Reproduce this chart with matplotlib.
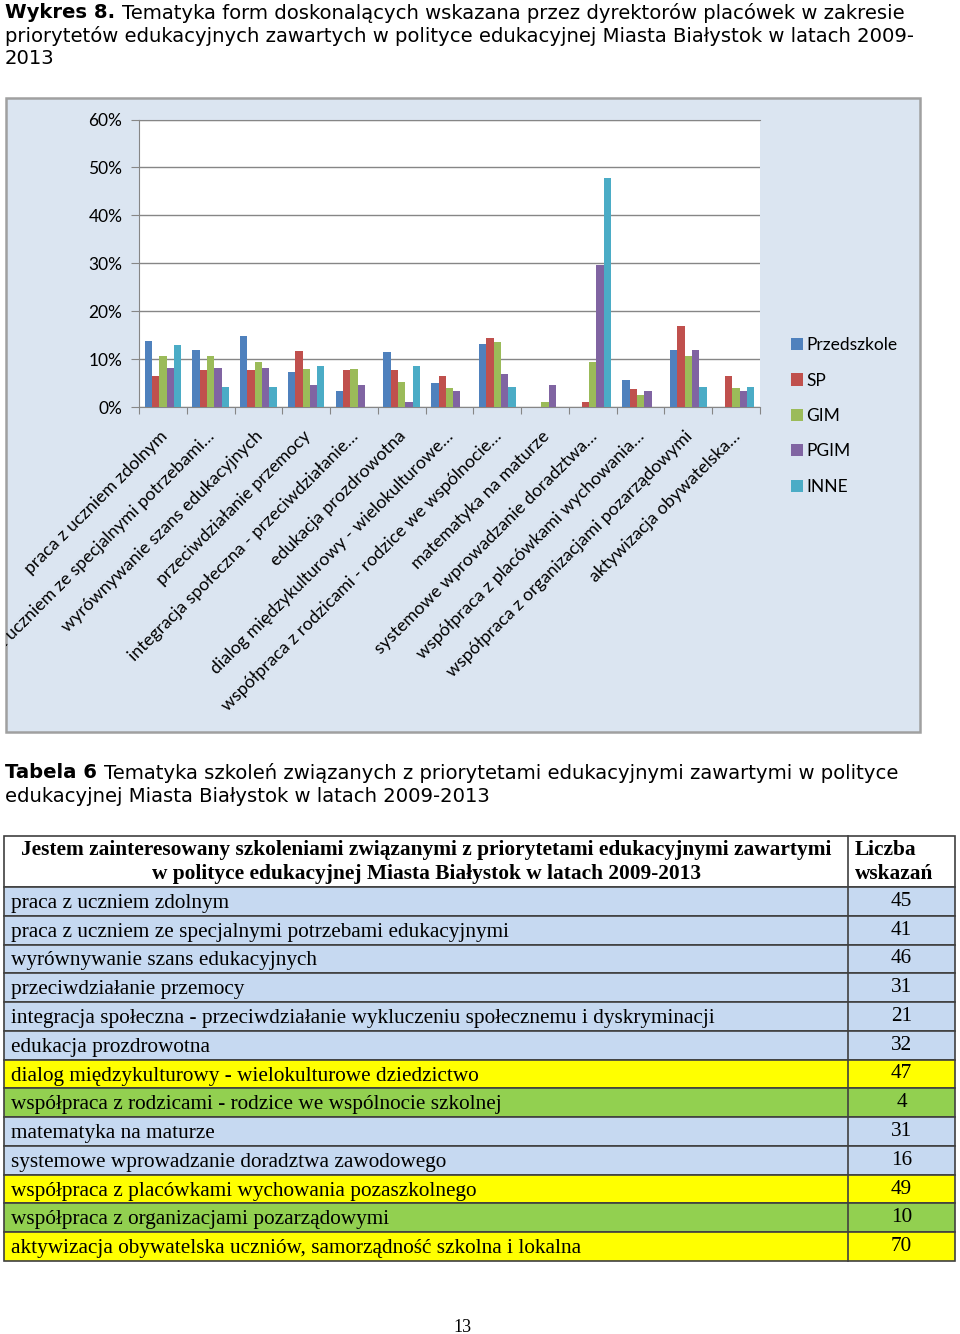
import matplotlib
matplotlib.use('Agg')
import matplotlib.pyplot as plt
import matplotlib.transforms as mtransforms
import numpy as np
from matplotlib.patches import Rectangle
from matplotlib.ticker import PercentFormatter

W, H = 960, 1334

# ---- dane wykresu (w %) ----
categories = [
    "praca z uczniem zdolnym",
    "praca z uczniem ze specjalnymi potrzebami…",
    "wyrównywanie szans edukacyjnych",
    "przeciwdziałanie przemocy",
    "integracja społeczna - przeciwdziałanie…",
    "edukacja prozdrowotna",
    "dialog międzykulturowy - wielokulturowe…",
    "współpraca z rodzicami - rodzice we wspólnocie…",
    "matematyka na maturze",
    "systemowe wprowadzanie doradztwa…",
    "współpraca z placówkami wychowania…",
    "współpraca z organizacjami pozarządowymi",
    "aktywizacja obywatelska…",
]
series_names = ["Przedszkole", "SP", "GIM", "PGIM", "INNE"]
przedszkole = [13.7, 12.0, 14.9, 7.3, 3.3, 11.4, 5.0, 13.1, 0, 0, 5.6, 12.0, 0]
sp = [6.4, 7.7, 7.7, 11.7, 7.7, 7.7, 6.4, 14.3, 0, 1.1, 3.8, 17.0, 6.4]
gim = [10.7, 10.7, 9.4, 8.0, 8.0, 5.2, 3.9, 13.5, 1.1, 9.4, 2.5, 10.7, 3.9]
pgim = [8.2, 8.2, 8.2, 4.6, 4.6, 1.0, 3.3, 6.9, 4.6, 29.7, 3.3, 11.8, 3.3]
inne = [12.9, 4.2, 4.2, 8.6, 0, 8.6, 0, 4.2, 0, 47.8, 0, 4.2, 4.2]
series_colors = ["#4F81BD", "#C0504D", "#9BBB59", "#8064A2", "#4BACC6"]

# ---- dane tabeli ----
table_header = ["Jestem zainteresowany szkoleniami związanymi z priorytetami edukacyjnymi zawartymi",
                "w polityce edukacyjnej Miasta Białystok w latach 2009-2013"]
table_topics = [
    "praca z uczniem zdolnym",
    "praca z uczniem ze specjalnymi potrzebami edukacyjnymi",
    "wyrównywanie szans edukacyjnych",
    "przeciwdziałanie przemocy",
    "integracja społeczna - przeciwdziałanie wykluczeniu społecznemu i dyskryminacji",
    "edukacja prozdrowotna",
    "dialog międzykulturowy - wielokulturowe dziedzictwo",
    "współpraca z rodzicami - rodzice we wspólnocie szkolnej",
    "matematyka na maturze",
    "systemowe wprowadzanie doradztwa zawodowego",
    "współpraca z placówkami wychowania pozaszkolnego",
    "współpraca z organizacjami pozarządowymi",
    "aktywizacja obywatelska uczniów, samorządność szkolna i lokalna",
]
table_counts = [45, 41, 46, 31, 21, 32, 47, 4, 31, 16, 49, 10, 70]
table_fill = ["blue"] * 6 + ["yellow", "green", "blue", "blue", "yellow", "green", "yellow"]
fill_colors = {"blue": "#C6D9F1", "yellow": "#FFFF00", "green": "#92D050"}

fig = plt.figure(figsize=(W / 100, H / 100), dpi=100)
fig.patch.set_facecolor('white')

# tło w pikselach
bg = fig.add_axes([0, 0, 1, 1])
bg.set_xlim(0, W)
bg.set_ylim(H, 0)
bg.axis('off')
renderer = fig.canvas.get_renderer()

TITLE_FONT = 'DejaVu Sans'
SERIF = 'Liberation Serif'
CHART_FONT = 'Lato'
TSIZE = 14.1


def mixed_line(x, y, bold, rest, size):
    t = bg.text(x, y, bold, fontsize=size, fontweight='bold', family=TITLE_FONT, va='center')
    bb = t.get_window_extent(renderer)
    bg.text(x + bb.width + size * 0.5, y, rest, fontsize=size, family=TITLE_FONT, va='center')


mixed_line(5, 13, "Wykres 8.", "Tematyka form doskonalących wskazana przez dyrektorów placówek w zakresie", TSIZE)
bg.text(5, 36, "priorytetów edukacyjnych zawartych w polityce edukacyjnej Miasta Białystok w latach 2009-",
        fontsize=TSIZE, family=TITLE_FONT, va='center')
bg.text(5, 59, "2013", fontsize=TSIZE, family=TITLE_FONT, va='center')

# ramka wykresu
frame = Rectangle((6, 98), 914, 634, facecolor='#DBE5F1', edgecolor='#A0A0A0', lw=1.8)
bg.add_patch(frame)

# ---- wykres ----
ax = fig.add_axes([139 / W, 1 - 407 / H, (760 - 139) / W, (407 - 119.5) / H])
ax.set_facecolor('white')
x = np.arange(len(categories))
bw = 0.153
all_series = [przedszkole, sp, gim, pgim, inne]
for k, vals in enumerate(all_series):
    ax.bar(x + (k - 2) * bw, np.array(vals) / 100, width=bw, color=series_colors[k],
           label=series_names[k], zorder=3)

ax.set_xlim(-0.5, len(categories) - 0.5)
ax.set_ylim(0, 0.6)
ax.set_yticks(np.arange(0, 0.61, 0.1))
ax.yaxis.set_major_formatter(PercentFormatter(1.0, decimals=0))
ax.grid(axis='y', color='#868686', lw=1)
ax.set_axisbelow(True)
ax.spines['right'].set_visible(False)
for s in ['left', 'bottom', 'top']:
    ax.spines[s].set_color('#868686')
ax.set_xticks(np.arange(-0.5, len(categories), 1))
ax.set_xticklabels([])
ax.tick_params(axis='x', length=5, color='#868686')
ax.tick_params(axis='y', length=6, color='#868686', labelsize=12.5, pad=6)
for lab in ax.get_yticklabels():
    lab.set_family(CHART_FONT)

lab_trans = mtransforms.offset_copy(ax.get_xaxis_transform(), fig=fig, x=-4, y=-21, units='dots')
for i, lab in enumerate(categories):
    t = ax.text(i, 0, lab, transform=lab_trans, rotation=45, ha='right', va='top',
                rotation_mode='anchor', fontsize=12.8, family=CHART_FONT)
    t.set_clip_path(frame)
    t.set_clip_on(True)

ax.legend(loc='center left', bbox_to_anchor=(775 / W, 1 - 416 / H), bbox_transform=fig.transFigure,
          frameon=False, prop={'family': CHART_FONT, 'size': 12.5}, handlelength=0.7,
          handleheight=0.7, handletextpad=0.2, labelspacing=1.12)

# ---- tabela ----
mixed_line(5, 773, "Tabela 6", "Tematyka szkoleń związanych z priorytetami edukacyjnymi zawartymi w polityce", TSIZE)
bg.text(5, 797, "edukacyjnej Miasta Białystok w latach 2009-2013", fontsize=TSIZE, family=TITLE_FONT, va='center')

tx0, tx1, tsplit = 4, 955, 848
head_top, head_bot = 836, 887
row_h = (1261 - head_bot) / len(table_topics)
line_c = '#404040'

bg.add_patch(Rectangle((tx0, head_top), tx1 - tx0, head_bot - head_top, facecolor='white',
                       edgecolor=line_c, lw=1.2))
bg.text((tx0 + tsplit) / 2, 850, table_header[0], ha='center', va='center', fontsize=15.4,
        fontweight='bold', family=SERIF)
bg.text((tx0 + tsplit) / 2, 874, table_header[1], ha='center', va='center', fontsize=15.4,
        fontweight='bold', family=SERIF)
bg.text(855, 850, "Liczba", ha='left', va='center', fontsize=15.4, fontweight='bold', family=SERIF)
bg.text(855, 874, "wskazań", ha='left', va='center', fontsize=15.4, fontweight='bold', family=SERIF)

for i, (topic, cnt, fc) in enumerate(zip(table_topics, table_counts, table_fill)):
    y0 = head_bot + i * row_h
    bg.add_patch(Rectangle((tx0, y0), tx1 - tx0, row_h, facecolor=fill_colors[fc],
                           edgecolor=line_c, lw=1.2))
    bg.text(11, y0 + row_h / 2 + 2, topic, ha='left', va='center', fontsize=15.35, family=SERIF)
    bg.text((tsplit + tx1) / 2, y0 + row_h / 2, str(cnt), ha='center', va='center',
            fontsize=15.35, family=SERIF)

bg.plot([tsplit, tsplit], [head_top, 1261], color=line_c, lw=1.2)

bg.text(462, 1327, "13", ha='center', va='center', fontsize=13, family=SERIF)

fig.savefig('out.png', dpi=100)
